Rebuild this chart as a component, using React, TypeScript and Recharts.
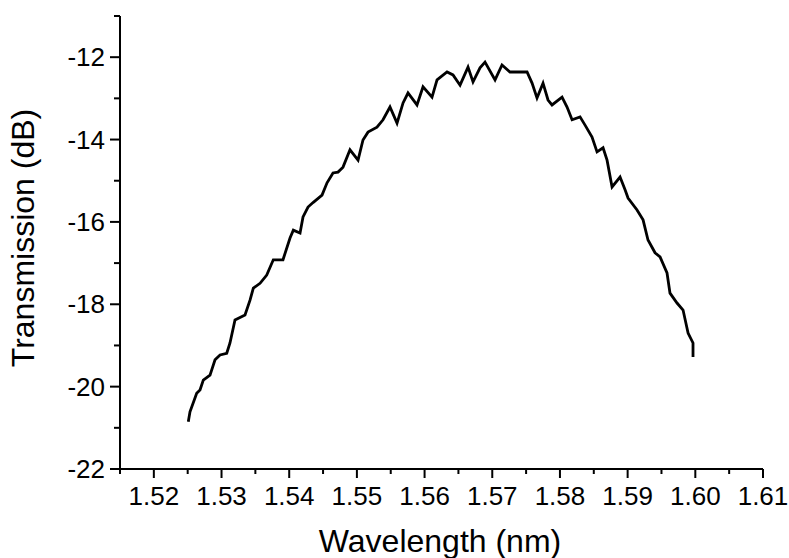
import React from "react";
import { LineChart, Line, XAxis, YAxis } from "recharts";

const wavelength = [
  1.52509, 1.52534, 1.52633, 1.52682, 1.52731, 1.5283, 1.52904, 1.52978, 1.53077, 1.53125,
  1.53199, 1.53347, 1.53421, 1.5347, 1.53569, 1.53668, 1.53765, 1.53908, 1.54012, 1.54061,
  1.5416, 1.54204, 1.54278, 1.54352, 1.54485, 1.54559, 1.54647, 1.54721, 1.54795, 1.54898,
  1.55017, 1.5509, 1.55164, 1.55297, 1.55386, 1.55489, 1.55593, 1.55682, 1.55755, 1.55888,
  1.55977, 1.5611, 1.56184, 1.56332, 1.5642, 1.56524, 1.56642, 1.56716, 1.56819, 1.56893,
  1.57041, 1.57144, 1.57262, 1.57514, 1.57588, 1.57661, 1.5775, 1.57824, 1.57883, 1.58031,
  1.58105, 1.58179, 1.58297, 1.58371, 1.58474, 1.58548, 1.58637, 1.58696, 1.5877, 1.58888,
  1.58962, 1.59006, 1.59139, 1.59228, 1.59301, 1.59405, 1.59479, 1.59582, 1.59626, 1.5973,
  1.59819, 1.59893, 1.59966, 1.59966,
];

const transmission = [
  -20.85, -20.61, -20.16, -20.08, -19.84, -19.72, -19.35, -19.23, -19.19, -18.94,
  -18.38, -18.26, -17.9, -17.61, -17.49, -17.29, -16.92, -16.92, -16.39, -16.2,
  -16.27, -15.88, -15.64, -15.53, -15.35, -15.05, -14.81, -14.79, -14.67, -14.25,
  -14.5, -14.01, -13.82, -13.7, -13.52, -13.21, -13.6, -13.11, -12.87, -13.16,
  -12.72, -12.97, -12.55, -12.36, -12.43, -12.68, -12.24, -12.6, -12.26, -12.12,
  -12.55, -12.19, -12.36, -12.36, -12.63, -12.99, -12.63, -13.04, -13.16, -12.97,
  -13.21, -13.52, -13.45, -13.65, -13.94, -14.3, -14.2, -14.5, -15.15, -14.91,
  -15.22, -15.42, -15.71, -15.95, -16.44, -16.75, -16.85, -17.24, -17.73, -17.97,
  -18.14, -18.7, -18.94, -19.28,
];

const xTicks = [
  1.515, 1.52, 1.525, 1.53, 1.535, 1.54, 1.545, 1.55, 1.555, 1.56, 1.565, 1.57, 1.575,
  1.58, 1.585, 1.59, 1.595, 1.6, 1.605, 1.61,
];
const yTicks = [-22, -21, -20, -19, -18, -17, -16, -15, -14, -13, -12, -11];

const data = wavelength.map((x, i) => ({ x, y: transmission[i] }));

const FONT = "'Liberation Sans', Arial, sans-serif";

const XTick = (props: any) => {
  const { x, y, payload } = props;
  const v = payload.value;
  const major = Math.round(v * 1000) % 10 === 0;
  return (
    <g>
      <line x1={x} x2={x} y1={y} y2={y + (major ? 9 : 5)} stroke="#000" strokeWidth={2} />
      {major && (
        <text x={x} y={y + 36} textAnchor="middle" fontSize={26} fontFamily={FONT} fill="#000">
          {v.toFixed(2)}
        </text>
      )}
    </g>
  );
};

const YTick = (props: any) => {
  const { x, y, payload } = props;
  const v = payload.value;
  const major = Math.round(v) % 2 === 0;
  return (
    <g>
      <line x1={x} x2={x - (major ? 10 : 6)} y1={y} y2={y} stroke="#000" strokeWidth={2} />
      {major && (
        <text x={x - 15} y={y + 9} textAnchor="end" fontSize={26} fontFamily={FONT} fill="#000">
          {String(v)}
        </text>
      )}
    </g>
  );
};

export default function App() {
  return (
    <div style={{ position: "absolute", left: 0, top: 0, width: 789, height: 558, background: "#fff" }}>
      <LineChart
        width={789}
        height={558}
        data={data}
        margin={{ top: 16, right: 26, bottom: 0, left: 0 }}
      >
        <XAxis
          type="number"
          dataKey="x"
          domain={[1.515, 1.61]}
          ticks={xTicks}
          allowDataOverflow
          height={89}
          tickSize={0}
          tickMargin={0}
          tickLine={false}
          axisLine={{ stroke: "#000", strokeWidth: 2 }}
          tick={<XTick />}
          interval={0}
        />
        <YAxis
          type="number"
          domain={[-22, -11]}
          ticks={yTicks}
          allowDataOverflow
          width={120}
          tickSize={0}
          tickMargin={0}
          tickLine={false}
          axisLine={{ stroke: "#000", strokeWidth: 2 }}
          tick={<YTick />}
          interval={0}
        />
        <Line
          type="linear"
          dataKey="y"
          stroke="#000"
          strokeWidth={2.8}
          dot={false}
          isAnimationActive={false}
        />
        <text x={440} y={552} textAnchor="middle" fontSize={32} fontFamily={FONT} fill="#000">
          Wavelength (nm)
        </text>
        <text
          x={34}
          y={238}
          textAnchor="middle"
          fontSize={32}
          fontFamily={FONT}
          fill="#000"
          transform="rotate(-90, 34, 238)"
        >
          Transmission (dB)
        </text>
      </LineChart>
    </div>
  );
}
